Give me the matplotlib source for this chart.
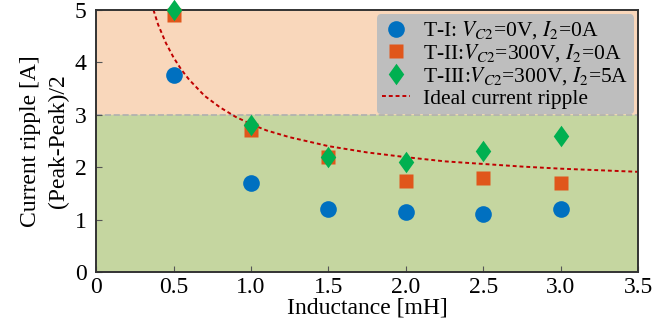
import matplotlib
matplotlib.use("Agg")
import matplotlib.pyplot as plt

plt.rcParams["font.family"] = ["Liberation Serif", "DejaVu Serif"]
plt.rcParams["mathtext.fontset"] = "stix"
plt.rcParams["font.size"] = 12

# データ
inductance = [0.5, 1.0, 1.5, 2.0, 2.5, 3.0]
ripple_t1 = [3.75, 1.70, 1.20, 1.15, 1.10, 1.20]
ripple_t2 = [4.90, 2.70, 2.20, 1.73, 1.80, 1.70]
ripple_t3 = [5.00, 2.80, 2.20, 2.10, 2.30, 2.60]

# 理想リプル曲線
ideal_x = [0.37, 0.40, 0.45, 0.50, 0.55, 0.60, 0.70, 0.80, 0.90, 1.00, 1.10, 1.25,
           1.50, 1.75, 2.00, 2.25, 2.50, 2.75, 3.00, 3.25, 3.50]
ideal_y = [5.00, 4.72, 4.37, 4.09, 3.86, 3.67, 3.36, 3.14, 2.96, 2.82, 2.70, 2.57,
           2.40, 2.28, 2.19, 2.11, 2.06, 2.01, 1.97, 1.94, 1.91]

xticks = [0, 0.5, 1.0, 1.5, 2.0, 2.5, 3.0, 3.5]
xticklabels = ["0", "0.5", "1.0", "1.5", "2.0", "2.5", "3.0", "3.5"]
yticks = [0, 1, 2, 3, 4, 5]

fig = plt.figure(figsize=(6.54, 3.30), dpi=100)
ax = fig.add_axes([0.147, 0.176, 0.829, 0.794])

# 背景の領域
ax.axhspan(3, 5, color="#F9D7BB", zorder=0)
ax.axhspan(0, 3, color="#C5D6A0", zorder=0)
ax.axhline(3, color="#B0B0B0", ls="--", lw=1.2, zorder=1)

# ひし形マーカー（少し太め）
diamond = [(-0.72, 0), (0, 1), (0.72, 0), (0, -1), (-0.72, 0)]

ax.plot(inductance, ripple_t1, "o", color="#0070C0", ms=12, mec="none",
        label="T-I: $V_{C2}$=0V, $I_2$=0A", clip_on=False, zorder=3)
ax.plot(inductance, ripple_t2, "s", color="#E0561B", ms=9.5, mec="none",
        label="T-II:$V_{C2}$=300V, $I_2$=0A", clip_on=False, zorder=3)
ax.plot(inductance, ripple_t3, marker=diamond, ls="none", color="#00B050", ms=15.5,
        mec="none", label="T-III:$V_{C2}$=300V, $I_2$=5A", clip_on=False, zorder=4)
ax.plot(ideal_x, ideal_y, ls=(0, (2, 1.5)), color="#C00000", lw=1.4,
        label="Ideal current ripple", zorder=2)

ax.set_xlim(0, 3.5)
ax.set_ylim(0, 5)
ax.set_xticks(xticks)
ax.set_xticklabels(xticklabels, fontsize=17)
ax.set_yticks(yticks)
ax.set_yticklabels([str(v) for v in yticks], fontsize=17)
ax.tick_params(direction="in", length=4, color="#555555")
ax.tick_params(axis="x", pad=4)
ax.tick_params(axis="y", pad=7)
for s in ax.spines.values():
    s.set_color("#333333")
    s.set_linewidth(1.4)

ax.set_xlabel("Inductance [mH]", fontsize=17, labelpad=-1)
ax.set_ylabel("Current ripple [A]\n(Peak-Peak)/2", fontsize=17, labelpad=4,
              linespacing=1.45)

leg = ax.legend(loc="upper right", fontsize=15.5, frameon=True, fancybox=True,
                framealpha=1, facecolor="#BEBEBE", edgecolor="none",
                borderpad=0.25, labelspacing=0.05, handlelength=1.3,
                handletextpad=0.6, borderaxespad=0.2)

fig.savefig("out.png", dpi=100)
